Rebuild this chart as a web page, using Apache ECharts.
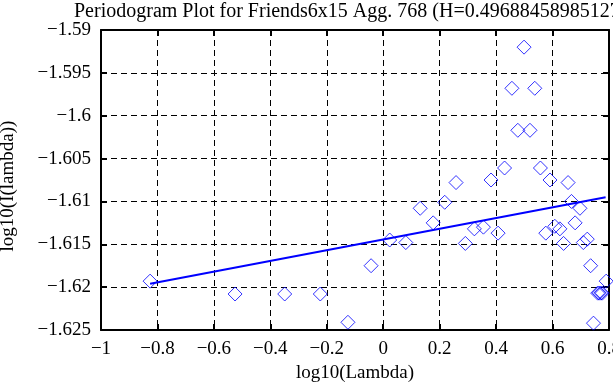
<!DOCTYPE html>
<html>
<head>
<meta charset="utf-8">
<script src="https://cdn.jsdelivr.net/npm/echarts@6/dist/echarts.min.js"></script>
<style>html,body{margin:0;padding:0;background:#fff;}#c{width:613px;height:385px;}</style>
</head>
<body>
<div id="c"></div>
<script>
var titleText = 'Periodogram Plot for Friends6x15 Agg. 768 (H=0.49688458985127)';
var xName = 'log10(Lambda)';
var yName = 'log10(I(lambda))';
var xTickLabels = ['−1', '−0.8', '−0.6', '−0.4', '−0.2', '0', '0.2', '0.4', '0.6', '0.8'];
var yTickLabels = ['−1.625', '−1.62', '−1.615', '−1.61', '−1.605', '−1.6', '−1.595', '−1.59'];
var xMin = -1, xMax = 0.8, xStep = 0.2;
var yMin = -1.625, yMax = -1.59, yStep = 0.005;

var logLambda = [-0.826, -0.525, -0.349, -0.223, -0.125, -0.043, 0.023, 0.080, 0.131, 0.177, 0.218, 0.258, 0.291, 0.323, 0.355, 0.382, 0.407, 0.430, 0.456, 0.477, 0.499, 0.520, 0.537, 0.557, 0.576, 0.591, 0.608, 0.626, 0.639, 0.655, 0.667, 0.680, 0.697, 0.709, 0.723, 0.735, 0.745, 0.760, 0.765, 0.771, 0.776, 0.790];
var logI = [-1.6193, -1.6208, -1.6208, -1.6208, -1.6241, -1.6175, -1.6145, -1.6148, -1.6108, -1.6125, -1.6101, -1.6078, -1.6149, -1.6132, -1.6130, -1.6075, -1.6137, -1.6061, -1.5968, -1.6017, -1.5920, -1.6017, -1.5968, -1.6061, -1.6137, -1.6075, -1.6129, -1.6132, -1.6149, -1.6078, -1.6100, -1.6125, -1.6108, -1.6148, -1.6144, -1.6175, -1.6242, -1.6207, -1.6207, -1.6207, -1.6207, -1.6193];
var fitX = [-0.826, 0.788];
var fitY = [-1.6196, -1.6095];

var pts = logLambda.map(function (x, i) { return [x, logI[i]]; });
var fit = fitX.map(function (x, i) { return [x, fitY[i]]; });

var font = 'Liberation Serif';
function xFmt(v) { var i = Math.round((v - xMin) / xStep); return xTickLabels[i] !== undefined ? xTickLabels[i] : ''; }
function yFmt(v) { var i = Math.round((v - yMin) / yStep); return yTickLabels[i] !== undefined ? yTickLabels[i] : ''; }

var frameLine = { show: true, onZero: false, lineStyle: { color: '#000', width: 2 } };
var tick = { show: true, inside: true, length: 6, lineStyle: { color: '#000', width: 2 } };
var split = { show: true, lineStyle: { color: '#000', width: 1, type: [6, 4] } };

var chart = echarts.init(document.getElementById('c'), null, { renderer: 'canvas' });
chart.setOption({
  animation: false,
  backgroundColor: '#fff',
  title: {
    text: titleText, left: 69, top: -3,
    textStyle: { fontFamily: font, fontSize: 20, fontWeight: 'normal', color: '#000' }
  },
  grid: { left: 101, right: 4, top: 30, bottom: 55, containLabel: false, outerBoundsMode: 'none' },
  xAxis: [
    {
      type: 'value', min: xMin, max: xMax, interval: xStep, position: 'bottom',
      name: xName, nameLocation: 'middle', nameGap: 33,
      nameTextStyle: { fontFamily: font, fontSize: 19, color: '#000' },
      axisLine: frameLine, axisTick: tick, splitLine: split,
      axisLabel: { formatter: xFmt, fontFamily: font, fontSize: 19, color: '#000', margin: 10, showMinLabel: true, showMaxLabel: true, alignMinLabel: 'center', alignMaxLabel: 'center', hideOverlap: false }
    },
    {
      type: 'value', min: xMin, max: xMax, interval: xStep, position: 'top',
      axisLine: frameLine, axisTick: tick, splitLine: { show: false }, axisLabel: { show: false }
    }
  ],
  yAxis: [
    {
      type: 'value', min: yMin, max: yMax, interval: yStep, position: 'left',
      name: yName, nameLocation: 'middle', nameGap: 83, nameRotate: 90,
      nameTextStyle: { fontFamily: font, fontSize: 19, color: '#000', padding: [0, 12, 0, 0] },
      axisLine: frameLine, axisTick: tick, splitLine: split,
      axisLabel: { formatter: yFmt, fontFamily: font, fontSize: 19, color: '#000', margin: 10 }
    },
    {
      type: 'value', min: yMin, max: yMax, interval: yStep, position: 'right',
      axisLine: frameLine, axisTick: tick, splitLine: { show: false }, axisLabel: { show: false }
    }
  ],
  series: [
    {
      type: 'scatter', data: pts, symbol: 'diamond', symbolSize: 14,
      itemStyle: { color: 'rgba(0,0,0,0)', borderColor: '#0000ff', borderWidth: 1 },
      z: 3
    },
    {
      type: 'line', data: fit, showSymbol: false, symbol: 'none',
      lineStyle: { color: '#0000ff', width: 2 }, z: 4
    }
  ]
});
</script>
</body>
</html>
